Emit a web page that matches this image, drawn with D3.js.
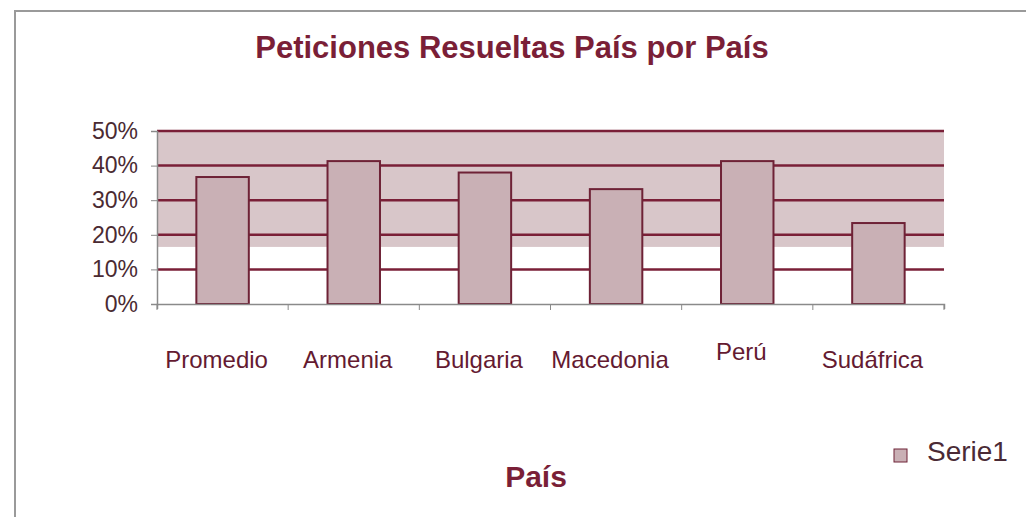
<!DOCTYPE html>
<html>
<head>
<meta charset="utf-8">
<script src="https://cdn.jsdelivr.net/npm/d3@7"></script>
<style>
  body { margin: 0; background: #fff; }
  text { font-family: "Liberation Sans", Arial, sans-serif; }
</style>
</head>
<body>
<script>
const WIDTH = 1026;
const HEIGHT = 517;

const countries = ["Promedio", "Armenia", "Bulgaria", "Macedonia", "Perú", "Sudáfrica"];
const resolved = [0.367, 0.413, 0.38, 0.332, 0.413, 0.234];
const yTicks = [0, 0.1, 0.2, 0.3, 0.4, 0.5];
const bandRange = [0.165, 0.5];   // shaded strip behind the bars
const seriesName = "Serie1";

const MAROON = "#7a1f37";

const svg = d3.select("body")
              .append("svg")
              .attr("width", WIDTH)
              .attr("height", HEIGHT);

// frame
svg.append("path")
   .attr("d", "M15,517 V11 H1026")
   .attr("fill", "none")
   .attr("stroke", "#9a9a9a")
   .attr("stroke-width", 2);

const x = d3.scaleBand()
            .domain(countries)
            .range([157, 944])
            .paddingInner(0.6)
            .paddingOuter(0.3);

const xOuter = d3.scaleBand()
                 .domain(countries)
                 .range([157, 944]);

const y = d3.scaleLinear()
            .domain([0, 0.5])
            .range([304, 131]);

// shaded band
svg.append("rect")
   .attr("x", 157)
   .attr("y", y(bandRange[1]))
   .attr("width", 944 - 157)
   .attr("height", y(bandRange[0]) - y(bandRange[1]))
   .attr("fill", "#d8c6c9");

// grid
svg.append("g")
   .selectAll("line")
   .data(yTicks.filter(d => d > 0))
   .join("line")
   .attr("x1", 157)
   .attr("x2", 944)
   .attr("y1", d => y(d))
   .attr("y2", d => y(d))
   .attr("stroke", MAROON)
   .attr("stroke-width", 2.5);

// bars
svg.append("g")
   .selectAll("rect")
   .data(countries)
   .join("rect")
   .attr("x", d => x(d))
   .attr("y", (d, i) => y(resolved[i]))
   .attr("width", x.bandwidth())
   .attr("height", (d, i) => y(0) - y(resolved[i]))
   .attr("fill", "#c9b0b5")
   .attr("stroke", "#6e2236")
   .attr("stroke-width", 2);

// y axis
const yAxis = d3.axisLeft(y)
                .tickValues(yTicks)
                .tickFormat(d3.format(".0%"))
                .tickSize(6)
                .tickPadding(13);

const gy = svg.append("g")
              .attr("transform", "translate(157,0)")
              .call(yAxis);
gy.select(".domain").attr("stroke", "#8a8a8a").attr("stroke-width", 1.5);
gy.selectAll(".tick line").attr("stroke", "#8a8a8a");
gy.selectAll(".tick text")
  .attr("font-size", 23)
  .attr("fill", "#4a2a32")
  .style("font-family", "'Liberation Sans', Arial, sans-serif");

// x axis
const xAxis = d3.axisBottom(xOuter)
                .tickSize(5)
                .tickFormat("");
const gx = svg.append("g")
              .attr("transform", "translate(0,304)")
              .call(xAxis);
gx.select(".domain").attr("stroke", "#8a8a8a").attr("stroke-width", 1.5);
gx.selectAll(".tick").remove();
gx.selectAll("line.sep")
  .data(d3.range(countries.length + 1))
  .join("line")
  .attr("class", "sep")
  .attr("x1", i => 157 + i * xOuter.step())
  .attr("x2", i => 157 + i * xOuter.step())
  .attr("y1", 0)
  .attr("y2", 6)
  .attr("stroke", "#8a8a8a");

svg.append("g")
   .selectAll("text")
   .data(countries)
   .join("text")
   .attr("x", d => xOuter(d) + xOuter.bandwidth() / 2 - 6)
   .attr("y", d => d === "Perú" ? 360 : 368)
   .attr("text-anchor", "middle")
   .attr("font-size", 24)
   .attr("fill", "#641a31")
   .text(d => d);

// title
svg.append("text")
   .attr("x", 512)
   .attr("y", 58)
   .attr("text-anchor", "middle")
   .attr("font-size", 31)
   .attr("font-weight", "bold")
   .attr("fill", MAROON)
   .text("Peticiones Resueltas País por País");

// axis title
svg.append("text")
   .attr("x", 536)
   .attr("y", 487)
   .attr("text-anchor", "middle")
   .attr("font-size", 30)
   .attr("font-weight", "bold")
   .attr("fill", MAROON)
   .text("País");

// legend
const legend = svg.append("g").attr("transform", "translate(894,449)");
legend.append("rect")
      .attr("width", 13)
      .attr("height", 13)
      .attr("fill", "#c9b0b5")
      .attr("stroke", "#6e2236")
      .attr("stroke-width", 1);
legend.append("text")
      .attr("x", 33)
      .attr("y", 12)
      .attr("font-size", 28)
      .attr("fill", "#4a2a35")
      .text(seriesName);
</script>
</body>
</html>
